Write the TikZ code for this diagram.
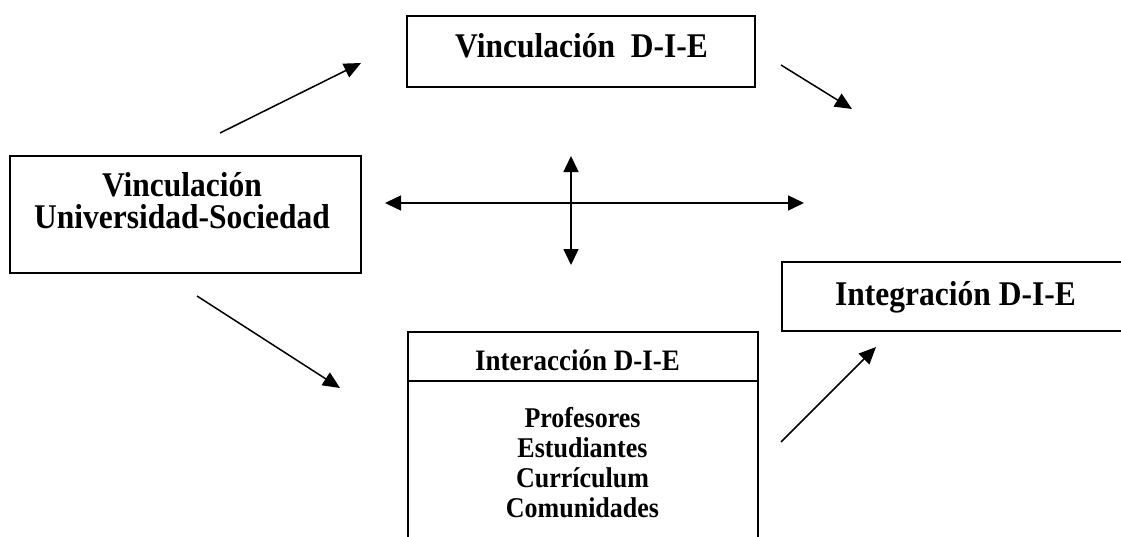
\documentclass[tikz,border=0pt]{standalone}
\usepackage{fontspec}
\usepackage{graphicx}
\setmainfont{Liberation Serif}
\usetikzlibrary{arrows.meta}
% slightly tall lettering
\newcommand\tallt[1]{\scalebox{1}[1.1]{#1}}
\newcommand\tightlines{\lineskiplimit=-100pt\relax\lineskip=0pt\relax}
\begin{document}
\begin{tikzpicture}[x=1pt,y=-1pt,
  frame/.style={draw=black,line width=1.8pt},
  lbl/.style={anchor=base,inner sep=0pt},
  big/.style={font=\fontsize{31.5}{36}\bfseries\selectfont},
  mid/.style={font=\fontsize{27}{32}\bfseries\selectfont},
  small/.style={font=\fontsize{26}{30}\bfseries\selectfont},
  link/.style={line width=1.5pt,-{Triangle[length=17pt,width=15pt]}},
  dlink/.style={line width=1.5pt,{Triangle[length=16pt,width=15pt]}-{Triangle[length=16pt,width=15pt]}}]
\useasboundingbox (0,0) rectangle (1121,536);
\clip (0,0) rectangle (1121,536);

% boxes (text nodes are anchored on the baseline of their last line)
\draw[frame] (407,16) rectangle (755,87);
\node[lbl,big] (vdie) at (581.5,57) {\tallt{Vinculación\ \ D-I-E}};

\draw[frame] (10,156) rectangle (361,273);
\node[lbl,align=center,font=\fontsize{31.5}{32}\bfseries\selectfont\tightlines]
  (vus) at (182,228) {\tallt{Vinculación}\\\tallt{Universidad-Sociedad}};

\draw[frame] (782,262) rectangle (1130,331);
\node[lbl,big] (idie) at (955.5,305) {\tallt{Integración D-I-E}};

\draw[frame] (408,560) -- (408,332) -- (758,332) -- (758,560);
\draw[frame] (408,381) -- (758,381);
\node[lbl,mid] (intdie) at (577.5,370) {\tallt{Interacción D-I-E}};
\node[lbl,align=center,font=\fontsize{26}{30}\bfseries\selectfont\tightlines]
  (plist) at (582.5,517) {\tallt{Profesores}\\\tallt{Estudiantes}\\\tallt{Currículum}\\\tallt{Comunidades}};

% arrow end points
\coordinate (a1s) at (220,133);
\coordinate (a1e) at (361,63);
\coordinate (a2s) at (781,65);
\coordinate (a2e) at (852,109);
\coordinate (a3s) at (197,296);
\coordinate (a3e) at (340,388);
\coordinate (a4s) at (781,442);
\coordinate (a4e) at (876,347);
\coordinate (hl) at (385,203);
\coordinate (hr) at (804,203);
\coordinate (vt) at (571,156);
\coordinate (vb) at (571,265);

\draw[link] (a1s) -- (a1e);
\draw[link] (a2s) -- (a2e);
\draw[link] (a3s) -- (a3e);
\draw[link] (a4s) -- (a4e);
\draw[dlink] (hl) -- (hr);
\draw[dlink] (vt) -- (vb);
\end{tikzpicture}
\end{document}
